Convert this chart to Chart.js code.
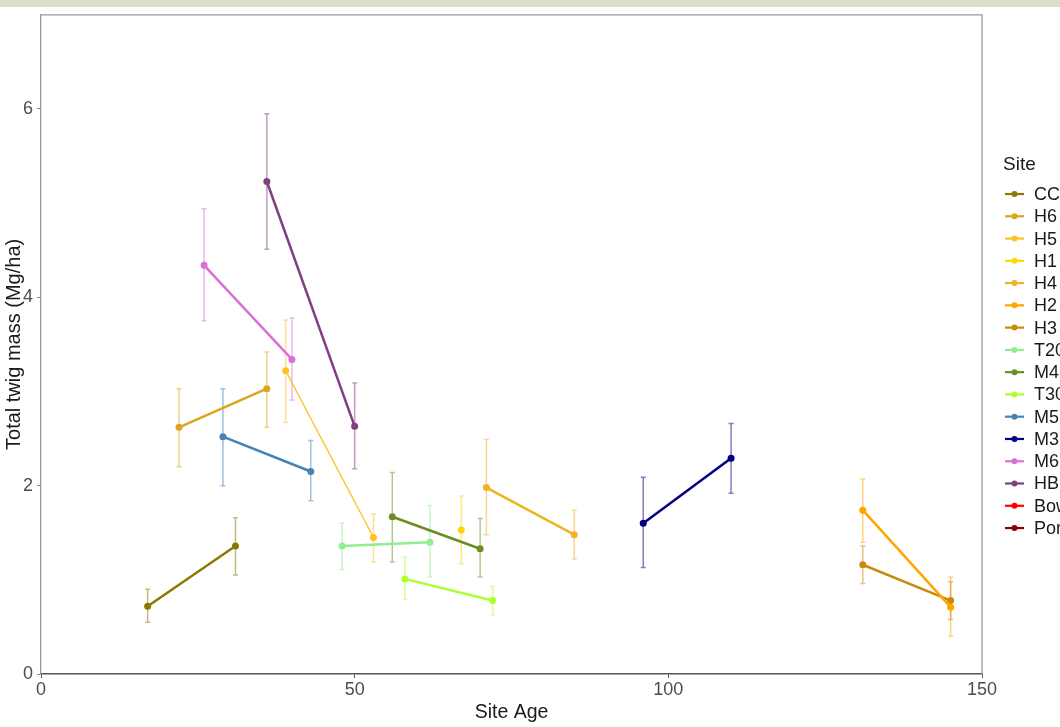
<!DOCTYPE html>
<html lang="en">
<head>
  <meta charset="UTF-8" />
  <title>Total twig mass by site age</title>
  <script src="https://cdn.jsdelivr.net/npm/chart.js@4.4.0/dist/chart.umd.min.js"></script>
  <style>
    html, body {
      margin: 0;
      padding: 0;
      background: #fff;
    }
    #wrap {
      position: relative;
      width: 1060px;
      height: 727px;
    }
    #topBar {
      position: absolute;
      left: 0;
      top: 0;
      width: 1060px;
      height: 7px;
      background: #dcdfca;
    }
  </style>
</head>
<body>
  <div id="wrap">
    <canvas id="twigChart" width="1060" height="727"></canvas>
    <div id="topBar"></div>
  </div>

  <script>
    // values
    const sites = ['CC', 'H6', 'H5', 'H1', 'H4', 'H2', 'H3', 'T20', 'M4', 'T30', 'M5', 'M3', 'M6', 'HB', 'Bow', 'Por'];
    const siteAge = [
      [17, 31], [22, 36], [39, 53], [67], [71, 85], [131, 145], [131, 145], [48, 62],
      [56, 70], [58, 72], [29, 43], [96, 110], [26, 40], [36, 50], [], []
    ];
    const siteMass = [
      [0.72, 1.36], [2.62, 3.03], [3.22, 1.45], [1.53], [1.98, 1.48], [1.74, 0.71], [1.16, 0.78], [1.36, 1.40],
      [1.67, 1.33], [1.01, 0.78], [2.52, 2.15], [1.60, 2.29], [4.34, 3.34], [5.23, 2.63], [], []
    ];
    const massLow = [
      [0.55, 1.05], [2.20, 2.62], [2.67, 1.19], [1.17], [1.48, 1.22], [1.40, 0.40], [0.96, 0.58], [1.11, 1.03],
      [1.19, 1.03], [0.79, 0.63], [2.00, 1.84], [1.13, 1.92], [3.75, 2.91], [4.51, 2.18], [], []
    ];
    const massHigh = [
      [0.90, 1.66], [3.03, 3.42], [3.76, 1.70], [1.89], [2.49, 1.74], [2.07, 1.03], [1.36, 0.98], [1.60, 1.79],
      [2.14, 1.65], [1.24, 0.93], [3.03, 2.48], [2.09, 2.66], [4.94, 3.78], [5.95, 3.09], [], []
    ];
    const xTicks = [0, 50, 100, 150];
    const yTicks = [0, 2, 4, 6];

    const siteColors = [
      '#8B7A00', '#DAA520', '#FFC125', '#FFD700', '#EEB422', '#FFA500', '#C98A0E', '#90EE90',
      '#6B8E23', '#ADFF2F', '#4682B4', '#000080', '#DA70D6', '#7F3F80', '#FF0000', '#8B0000'
    ];

    const FONT = "'Liberation Sans', Arial, sans-serif";

    const datasets = sites.map((name, i) => ({
      label: name,
      data: siteAge[i].map((a, j) => ({ x: a, y: siteMass[i][j] })),
      borderColor: siteColors[i],
      backgroundColor: siteColors[i],
      borderWidth: name === 'H5' ? 1.4 : 2.5,
      pointRadius: 3.5,
      pointBorderWidth: 0,
      pointHoverRadius: 3.5,
      tension: 0,
      fill: false
    }));

    // vertical error bars with small caps
    const errorBars = {
      id: 'errorBars',
      beforeDatasetsDraw(chart) {
        const { ctx, scales: { x, y } } = chart;
        ctx.save();
        ctx.globalAlpha = 0.5;
        ctx.lineWidth = 1.5;
        sites.forEach((name, i) => {
          ctx.strokeStyle = siteColors[i];
          siteAge[i].forEach((a, j) => {
            const px = x.getPixelForValue(a);
            const top = y.getPixelForValue(massHigh[i][j]);
            const bot = y.getPixelForValue(massLow[i][j]);
            ctx.beginPath();
            ctx.moveTo(px, top);
            ctx.lineTo(px, bot);
            ctx.moveTo(px - 2.5, top);
            ctx.lineTo(px + 2.5, top);
            ctx.moveTo(px - 2.5, bot);
            ctx.lineTo(px + 2.5, bot);
            ctx.stroke();
          });
        });
        ctx.restore();
      }
    };

    // panel border (top + right) and the legend at the right
    const frameAndLegend = {
      id: 'frameAndLegend',
      afterDraw(chart) {
        const { ctx, chartArea: ca } = chart;
        ctx.save();
        ctx.strokeStyle = '#9a9a9a';
        ctx.lineWidth = 1.3;
        ctx.beginPath();
        ctx.moveTo(ca.left, ca.top);
        ctx.lineTo(ca.right, ca.top);
        ctx.lineTo(ca.right, ca.bottom);
        ctx.stroke();

        ctx.fillStyle = '#1a1a1a';
        ctx.font = '19px ' + FONT;
        ctx.textBaseline = 'middle';
        ctx.textAlign = 'left';
        ctx.fillText('Site', 1003, 165);

        sites.forEach((name, i) => {
          const yy = 194 + i * 22.27;
          ctx.strokeStyle = siteColors[i];
          ctx.fillStyle = siteColors[i];
          ctx.lineWidth = 2.2;
          ctx.beginPath();
          ctx.moveTo(1005, yy);
          ctx.lineTo(1024, yy);
          ctx.stroke();
          ctx.beginPath();
          ctx.arc(1014.5, yy, 3, 0, Math.PI * 2);
          ctx.fill();
          ctx.fillStyle = '#1a1a1a';
          ctx.font = '18px ' + FONT;
          ctx.fillText(name, 1034, yy + 1);
        });
        ctx.restore();
      }
    };

    const ctx = document.getElementById('twigChart').getContext('2d');
    new Chart(ctx, {
      type: 'line',
      data: { datasets },
      options: {
        responsive: false,
        animation: false,
        layout: { padding: { top: 14, right: 78, left: 0, bottom: 0 } },
        plugins: {
          legend: { display: false },
          tooltip: { enabled: false }
        },
        scales: {
          x: {
            type: 'linear',
            min: 0,
            max: 150,
            afterBuildTicks: (s) => { s.ticks = xTicks.map(v => ({ value: v })); },
            afterFit: (s) => { s.height = 53; },
            grid: { drawOnChartArea: false, drawTicks: true, tickLength: 4, color: '#555', lineWidth: 1 },
            border: { display: true, color: '#555', width: 1.5 },
            ticks: { color: '#4d4d4d', font: { family: FONT, size: 18 }, padding: 1 },
            title: {
              display: true,
              text: 'Site Age',
              color: '#1a1a1a',
              font: { family: FONT, size: 19.5 },
              padding: { top: 0, bottom: 3 }
            }
          },
          y: {
            min: 0,
            max: 7,
            afterBuildTicks: (s) => { s.ticks = yTicks.map(v => ({ value: v })); },
            afterFit: (s) => { s.width = 41; },
            grid: { drawOnChartArea: false, drawTicks: true, tickLength: 4, color: '#888', lineWidth: 1 },
            border: { display: true, color: '#9a9a9a', width: 1.3 },
            ticks: { color: '#4d4d4d', font: { family: FONT, size: 18 }, padding: 4 },
            title: {
              display: true,
              text: 'Total twig mass (Mg/ha)',
              color: '#1a1a1a',
              font: { family: FONT, size: 20 },
              padding: { top: 2, bottom: 0 }
            }
          }
        }
      },
      plugins: [errorBars, frameAndLegend]
    });
  </script>
</body>
</html>
